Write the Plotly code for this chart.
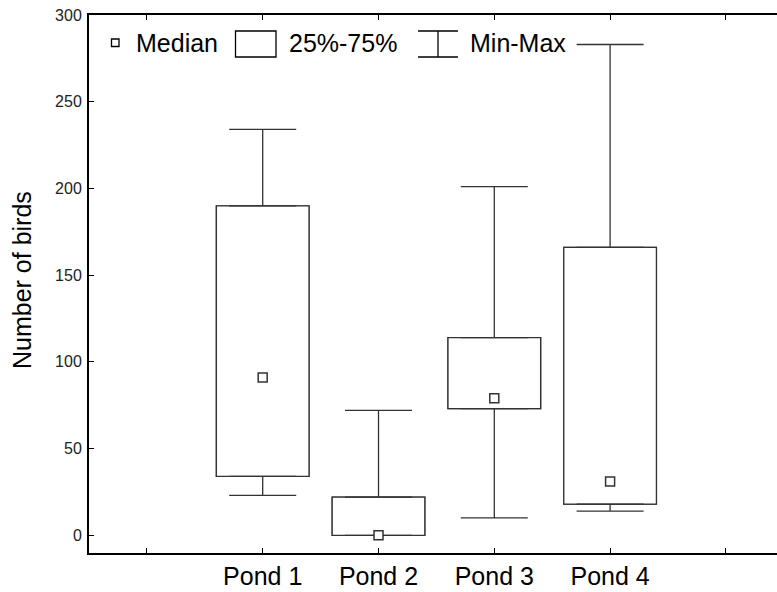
import plotly.graph_objects as go

# ---- data ----
categories = ["Pond 1", "Pond 2", "Pond 3", "Pond 4"]
positions = [1, 2, 3, 4]
mins = [23, 0, 10, 14]
q1s = [34, 0, 73, 18]
medians = [91, 0, 79, 31]
q3s = [190, 22, 114, 166]
maxs = [234, 72, 201, 283]
y_ticks = [0, 50, 100, 150, 200, 250, 300]

W, H = 777, 592
L, R, T, B = 89, 0, 15, 39
pw, ph = W - L - R, H - T - B

def px(x):
    return (x - L) / pw

def py(y):
    return (H - B - y) / ph

LINE = "#333333"
FONT = "Liberation Sans, Arial, sans-serif"

fig = go.Figure()

# boxes (25%-75%)
fig.add_trace(go.Bar(
    x=positions, y=[b - a for a, b in zip(q1s, q3s)], base=q1s, width=0.8,
    marker=dict(color="white", line=dict(color=LINE, width=1.3)),
    showlegend=False, hoverinfo="skip"))

# upper whiskers
fig.add_trace(go.Scatter(
    x=positions, y=q3s, mode="markers", marker=dict(color="rgba(0,0,0,0)", size=1),
    error_y=dict(type="data", symmetric=False,
                 array=[m - q for m, q in zip(maxs, q3s)], arrayminus=[0] * 4,
                 width=33.5, thickness=1.3, color=LINE),
    showlegend=False, hoverinfo="skip"))
# lower whiskers
fig.add_trace(go.Scatter(
    x=positions, y=q1s, mode="markers", marker=dict(color="rgba(0,0,0,0)", size=1),
    error_y=dict(type="data", symmetric=False,
                 array=[0] * 4, arrayminus=[q - m for q, m in zip(q1s, mins)],
                 width=33.5, thickness=1.3, color=LINE),
    showlegend=False, hoverinfo="skip"))

# redraw boxes on top so whisker caps at box edges are hidden
fig.add_trace(go.Bar(
    x=positions, y=[b - a for a, b in zip(q1s, q3s)], base=q1s, width=0.8,
    marker=dict(color="white", line=dict(color=LINE, width=1.3)),
    showlegend=False, hoverinfo="skip"))

# medians
fig.add_trace(go.Scatter(
    x=positions, y=medians, mode="markers",
    marker=dict(symbol="square", size=9, color="white", line=dict(color=LINE, width=1.5)),
    showlegend=False, hoverinfo="skip"))

# ---- custom legend ----
shapes = []
annotations = []
shapes.append(dict(type="rect", xref="paper", yref="paper",
                   x0=px(111.5), x1=px(119), y0=py(46.5), y1=py(39),
                   line=dict(color="black", width=1.3), fillcolor="white"))
annotations.append(dict(text="Median", xref="paper", yref="paper", x=px(134), y=py(43),
                        xanchor="left", yanchor="middle", showarrow=False,
                        font=dict(size=25, color="black", family=FONT)))
shapes.append(dict(type="rect", xref="paper", yref="paper",
                   x0=px(235.5), x1=px(276), y0=py(57), y1=py(31),
                   line=dict(color="black", width=1.3), fillcolor="white"))
annotations.append(dict(text="25%-75%", xref="paper", yref="paper", x=px(287), y=py(43),
                        xanchor="left", yanchor="middle", showarrow=False,
                        font=dict(size=25, color="black", family=FONT)))
for (x0, y0, x1, y1) in [(418, 31, 458, 31), (418, 57, 458, 57), (438, 31, 438, 57)]:
    shapes.append(dict(type="line", xref="paper", yref="paper",
                       x0=px(x0), x1=px(x1), y0=py(y0), y1=py(y1),
                       line=dict(color="black", width=1.3)))
annotations.append(dict(text="Min-Max", xref="paper", yref="paper", x=px(468), y=py(43),
                        xanchor="left", yanchor="middle", showarrow=False,
                        font=dict(size=25, color="black", family=FONT)))

annotations.append(dict(text="Number of birds", xref="paper", yref="paper",
                        x=px(22), y=py(280), textangle=-90, xanchor="center", yanchor="middle",
                        showarrow=False, font=dict(size=25, color="black", family=FONT)))

x_right = -0.5 + pw / 115.8

fig.update_layout(
    width=W, height=H,
    margin=dict(l=L, r=R, t=T, b=B, pad=0, autoexpand=False),
    paper_bgcolor="white", plot_bgcolor="white",
    font=dict(family=FONT, color="black"),
    shapes=shapes, annotations=annotations,
    showlegend=False,
    barmode="overlay",
    xaxis=dict(range=[-0.5, x_right], tickmode="array", tickvals=[0, 1, 2, 3, 4, 5],
               ticktext=[""] + categories + [""], automargin=False,
               ticks="inside", ticklen=5, tickwidth=1.3, tickcolor="black",
               showline=True, linecolor="black", linewidth=2, mirror="ticks",
               showgrid=False, zeroline=False, ticklabelstandoff=0,
               tickfont=dict(size=25, color="black", family=FONT)),
    yaxis=dict(range=[-10.2, 300], tickmode="array", tickvals=y_ticks, automargin=False,
               ticks="inside", ticklen=5, tickwidth=1.3, tickcolor="black",
               showline=True, linecolor="black", linewidth=2,
               showgrid=False, zeroline=False, ticklabelstandoff=2,
               tickfont=dict(size=16, color="#222222", family=FONT)),
)

fig.write_html("out.html", config={"displayModeBar": False},
               post_script="document.body.style.margin='0';document.body.style.overflow='hidden';")
